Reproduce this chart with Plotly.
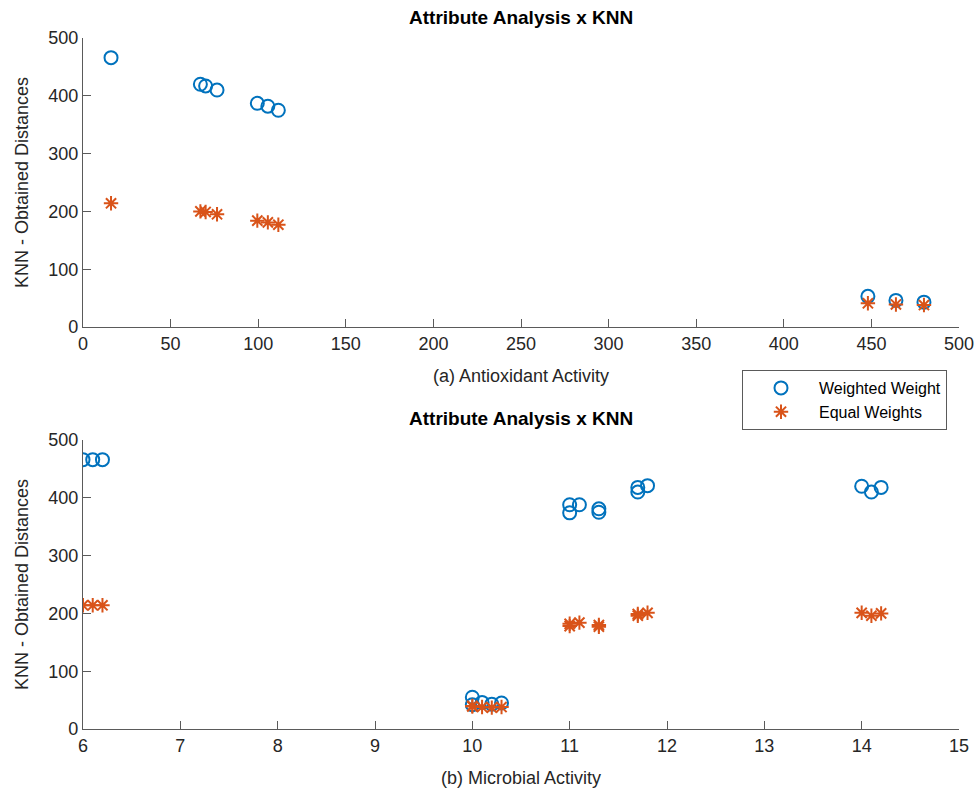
import plotly.graph_objects as go

# Top panel: antioxidant activity
antiox_x = [16, 67, 70, 76.5, 99.5, 105.5, 111.5, 448, 464, 480]
antiox_weighted = [466, 420, 417, 410, 387, 382, 375, 53, 46, 43]
antiox_equal = [214, 200, 199, 195, 184, 181, 177, 41, 39, 38]

# Bottom panel: microbial activity
micro_x = [6.0, 6.1, 6.2, 10.0, 10.0, 10.1, 10.2, 10.3, 11.0, 11.0, 11.1, 11.3, 11.3,
           11.7, 11.7, 11.8, 14.0, 14.1, 14.2]
micro_weighted = [466, 466, 466, 55, 42, 46, 43, 45, 388, 374, 388, 381, 375,
                  418, 410, 421, 420, 410, 418]
micro_equal = [214, 214, 214, 40, 39, 38, 37, 38, 182, 178, 184, 180, 177,
               199, 196, 201, 201, 196, 200]

series_names = ["Weighted Weight", "Equal Weights"]
title_text = "Attribute Analysis x KNN"
y_title = "KNN - Obtained Distances"
x_titles = ["(a) Antioxidant Activity", "(b) Microbial Activity"]

BLUE = "#0072BD"
ORANGE = "#D95319"
FONT = "Liberation Sans, Arial, Helvetica, sans-serif"

circle = dict(symbol="circle-open", size=13, color=BLUE, line=dict(width=2, color=BLUE))
star = dict(symbol="asterisk-open", size=12, color=ORANGE, line=dict(width=2, color=ORANGE))

fig = go.Figure()
fig.add_trace(go.Scatter(x=antiox_x, y=antiox_weighted, mode="markers", marker=circle,
                         name=series_names[0], xaxis="x", yaxis="y"))
fig.add_trace(go.Scatter(x=antiox_x, y=antiox_equal, mode="markers", marker=star,
                         name=series_names[1], xaxis="x", yaxis="y"))
fig.add_trace(go.Scatter(x=micro_x, y=micro_weighted, mode="markers", marker=circle,
                         name=series_names[0], xaxis="x2", yaxis="y2", showlegend=False))
fig.add_trace(go.Scatter(x=micro_x, y=micro_equal, mode="markers", marker=star,
                         name=series_names[1], xaxis="x2", yaxis="y2", showlegend=False))

W, H = 976, 792


def px(xp):
    return xp / W


def py(yp):
    return (H - yp) / H


xdom = [px(83), px(959)]
top_dom = [py(327), py(38)]
bot_dom = [py(729), py(440)]

axis_common = dict(
    showline=True, linecolor="#5a5a5a", linewidth=1.2,
    ticks="inside", ticklen=8, tickcolor="#5a5a5a", tickwidth=1.2,
    showgrid=False, zeroline=False, automargin=False,
    tickfont=dict(family=FONT, size=18, color="#262626"),
    title_font=dict(family=FONT, size=18, color="#262626"),
    mirror=False,
)

fig.update_layout(
    width=W, height=H,
    margin=dict(l=0, r=0, t=0, b=0, autoexpand=False),
    paper_bgcolor="white", plot_bgcolor="white",
    font=dict(family=FONT, size=18, color="#262626"),
    xaxis=dict(domain=xdom, anchor="y", range=[0, 500], tickvals=list(range(0, 501, 50)),
               title=dict(text=x_titles[0], standoff=16), **axis_common),
    yaxis=dict(domain=top_dom, anchor="x", range=[0, 500], tickvals=list(range(0, 501, 100)),
               title=dict(text=y_title, standoff=14), **axis_common),
    xaxis2=dict(domain=xdom, anchor="y2", range=[6, 15], tickvals=list(range(6, 16)),
                title=dict(text=x_titles[1], standoff=16), **axis_common),
    yaxis2=dict(domain=bot_dom, anchor="x2", range=[0, 500], tickvals=list(range(0, 501, 100)),
                title=dict(text=y_title, standoff=14), **axis_common),
    legend=dict(x=px(742), y=py(370), xanchor="left", yanchor="top",
                bordercolor="#5a5a5a", borderwidth=1, bgcolor="white",
                font=dict(family=FONT, size=16, color="#000"),
                itemwidth=66, tracegroupgap=0),
    showlegend=True,
    annotations=[
        dict(text="<b>" + title_text + "</b>", x=(xdom[0] + xdom[1]) / 2, y=py(18),
             xref="paper", yref="paper", showarrow=False, xanchor="center", yanchor="middle",
             font=dict(family=FONT, size=19, color="#000")),
        dict(text="<b>" + title_text + "</b>", x=(xdom[0] + xdom[1]) / 2, y=py(418),
             xref="paper", yref="paper", showarrow=False, xanchor="center", yanchor="middle",
             font=dict(family=FONT, size=19, color="#000")),
    ],
)

fig.write_html(
    "out.html",
    config={"displayModeBar": False},
    post_script="document.body.style.margin='0';document.body.style.overflow='hidden';",
)
